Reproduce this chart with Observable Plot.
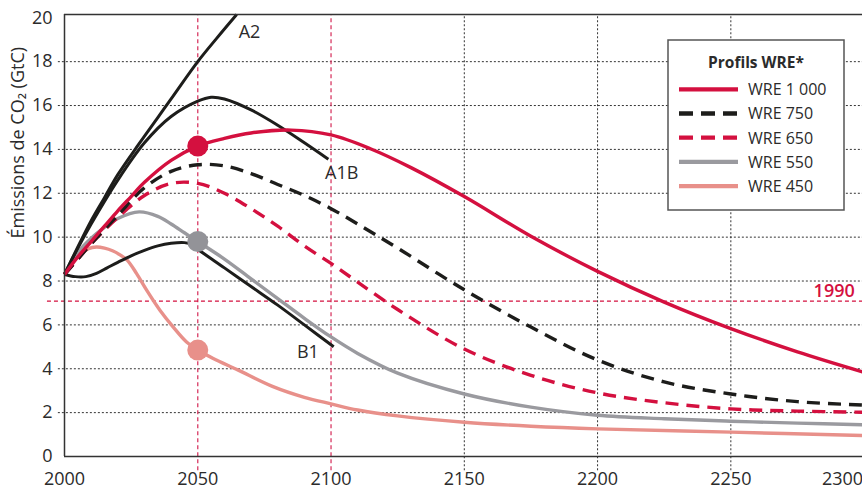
<!DOCTYPE html>
<html><head><meta charset="utf-8">
<script src="https://cdn.jsdelivr.net/npm/d3@7"></script>
<script src="https://cdn.jsdelivr.net/npm/@observablehq/plot@0.6"></script>
<style>
body{margin:0;background:#fff;}
#chart{position:relative;width:862px;height:494px;overflow:hidden;}
</style>
</head><body><div id="chart"></div>
<script>
// ---- Data (year, GtC) ----
const A2 = [[2000,8.3],[2005,9.55],[2010,10.75],[2015,11.8],[2020,12.85],[2028,14.26],[2035,15.45],[2040,16.3],[2050,18.0],[2057,19.05],[2064.6,20.15]];
const A1B = [[2000,8.3],[2005,9.5],[2010,10.6],[2020,12.6],[2030,14.3],[2040,15.5],[2050,16.2],[2055,16.38],[2060,16.3],[2070,15.8],[2080,15.1],[2090,14.3],[2099,13.55]];
const B1 = [[2000,8.3],[2004,8.2],[2008,8.2],[2012,8.35],[2016,8.6],[2020,8.85],[2025,9.15],[2030,9.4],[2035,9.6],[2040,9.72],[2045,9.75],[2048,9.65],[2050,9.45],[2060,8.6],[2070,7.75],[2080,6.9],[2090,6.0],[2101,5.0]];
const WRE1000 = [[2000,8.3],[2005,9.1],[2010,9.8],[2015,10.5],[2020,11.2],[2025,11.85],[2030,12.5],[2040,13.5],[2050,14.15],[2060,14.5],[2070,14.75],[2085,14.88],[2100,14.66],[2115,14.02],[2130,13.17],[2150,11.85],[2175,10.04],[2200,8.44],[2225,7.04],[2250,5.83],[2275,4.77],[2299.4,3.86]];
const WRE750 = [[2000,8.3],[2005,9.0],[2010,9.7],[2020,11.0],[2030,12.25],[2040,13.0],[2050,13.3],[2060,13.25],[2070,12.9],[2080,12.4],[2090,11.9],[2100,11.3],[2110,10.6],[2125,9.5],[2150,7.6],[2175,5.9],[2200,4.4],[2225,3.4],[2250,2.85],[2275,2.5],[2299.4,2.35]];
const WRE650 = [[2000,8.3],[2005,9.0],[2010,9.7],[2020,10.9],[2030,11.9],[2040,12.45],[2050,12.45],[2060,12.0],[2070,11.3],[2080,10.5],[2090,9.6],[2100,8.8],[2110,7.95],[2125,6.7],[2150,4.9],[2175,3.7],[2200,2.9],[2225,2.45],[2250,2.17],[2275,2.07],[2299.4,2.02]];
const WRE550 = [[2000,8.3],[2005,9.3],[2010,9.95],[2015,10.45],[2020,10.85],[2028,11.15],[2035,10.95],[2040,10.6],[2045,10.2],[2050,9.8],[2060,9.0],[2070,8.1],[2080,7.2],[2090,6.3],[2100,5.45],[2110,4.7],[2125,3.8],[2150,2.85],[2175,2.25],[2200,1.88],[2225,1.72],[2250,1.61],[2275,1.52],[2299.4,1.45]];
const WRE450 = [[2000,8.3],[2003,8.85],[2006,9.25],[2009,9.48],[2012,9.55],[2015,9.5],[2018,9.38],[2021,9.18],[2023.5,8.95],[2027,8.35],[2031,7.55],[2035.8,6.67],[2040.8,5.9],[2045.8,5.22],[2050.5,4.82],[2055.8,4.47],[2065,3.95],[2078,3.2],[2090,2.7],[2100,2.4],[2110,2.12],[2125,1.85],[2150,1.56],[2175,1.38],[2200,1.26],[2250,1.11],[2299.4,0.96]];

const markerYear = 2050;
const markerValues = [14.15, 9.8, 4.85];          // WRE 1000, WRE 550, WRE 450 at 2050
const value1990 = 7.08;
const scenarioLabels = ["A2", "A1B", "B1"];
const scenarioLabelYears = [2069.4, 2104, 2091.3];
const scenarioLabelValues = [19.33, 12.9, 4.74];

const yTicks = [0,2,4,6,8,10,12,14,16,18,20];
const xTicks = [2000,2050,2100,2150,2200,2250,2300];
const legendTitle = "Profils WRE*";
const legendNames = ["WRE 1 000","WRE 750","WRE 650","WRE 550","WRE 450"];

// ---- Styles ----
const RED = "#d4103f", SALMON = "#e8908a", GRAY = "#9a9a9f", BLACK = "#1d1d1b", INK = "#2b2b2b";
const legendColors = [RED, BLACK, RED, GRAY, SALMON];
const legendDash = [null, "13,8", "13,8", null, null];
const font = "'Open Sans', sans-serif";

const rows = (arr, name) => arr.map(([year, value]) => ({year, value, name}));
const lineOpts = (stroke, dash) => ({x: "year", y: "value", stroke, strokeWidth: 3.4, curve: "catmull-rom", strokeDasharray: dash || null, strokeLinecap: "butt"});

const Y_TOP = 20.15, X_RIGHT = 2299.4;
const fmt = d => String(d);

const chart = Plot.plot({
  width: 862, height: 494,
  marginLeft: 64, marginRight: 0, marginTop: 14, marginBottom: 38,
  style: {fontFamily: font, fontSize: "17px", color: INK, background: "#fff", overflow: "visible"},
  x: {domain: [2000, X_RIGHT]},
  y: {domain: [0, Y_TOP]},
  marks: [
    Plot.ruleY(yTicks.filter(d => d > 0 && d < 20), {x1: 1997.7, x2: X_RIGHT, stroke: "#333", strokeWidth: 1, strokeDasharray: "2,2"}),
    Plot.ruleX(xTicks.filter(d => d > 2100 && d < 2300), {y1: -0.65, y2: Y_TOP, stroke: "#333", strokeWidth: 1, strokeDasharray: "2,2"}),
    Plot.ruleX(xTicks.filter(d => d === 2050 || d === 2100), {y1: -0.65, y2: Y_TOP, stroke: "#d83a64", strokeWidth: 1.3, strokeDasharray: "4,3"}),
    Plot.ruleY([value1990], {x1: 1993.6, x2: X_RIGHT, stroke: RED, strokeWidth: 1.2, strokeDasharray: "4,3"}),
    Plot.line(rows(WRE450, "WRE 450"), lineOpts(SALMON)),
    Plot.line(rows(WRE550, "WRE 550"), lineOpts(GRAY)),
    Plot.line(rows(B1, "B1"), {...lineOpts(BLACK), strokeWidth: 3}),
    Plot.line(rows(WRE650, "WRE 650"), lineOpts(RED, "13,8")),
    Plot.line(rows(WRE750, "WRE 750"), lineOpts(BLACK, "13,8")),
    Plot.line(rows(A1B, "A1B"), {...lineOpts(BLACK), strokeWidth: 3}),
    Plot.line(rows(A2, "A2"), {...lineOpts(BLACK), strokeWidth: 3}),
    Plot.line(rows(WRE1000, "WRE 1000"), lineOpts(RED)),
    Plot.dot(markerValues, {x: () => markerYear, y: d => d, r: 10.5, fill: [RED, "#939398", SALMON], stroke: null}),
    Plot.text(scenarioLabels, {x: (d, i) => scenarioLabelYears[i], y: (d, i) => scenarioLabelValues[i], text: d => d, fontSize: 18, fill: INK}),
    Plot.text(["1990"], {x: () => 2296.5, y: () => 7.52, text: d => d, textAnchor: "end", fontSize: 18, fontWeight: 600, fill: RED}),
    // frame
    Plot.ruleY([0, Y_TOP], {x1: 2000, x2: X_RIGHT, stroke: "#333", strokeWidth: 1.5}),
    Plot.ruleX([2000], {y1: 0, y2: Y_TOP, stroke: "#333", strokeWidth: 1.5}),
    Plot.axisY(yTicks, {tickSize: 0, tickPadding: 12, label: null, fontSize: 18, fill: INK, tickFormat: fmt}),
    Plot.axisX(xTicks.filter(d => d < 2300), {tickSize: 0, tickPadding: 16, label: null, fontSize: 18, fill: INK, tickFormat: fmt}),
    Plot.axisX(xTicks.filter(d => d === 2300), {tickSize: 0, tickPadding: 16, label: null, fontSize: 18, fill: INK, tickFormat: fmt, textAnchor: "end", dx: -1}),
    Plot.text(["Émissions de CO₂ (GtC)"], {frameAnchor: "left", dx: -46, dy: 3, rotate: -90, fontSize: 18, fill: INK, text: d => d})
  ]
});
document.getElementById("chart").appendChild(chart);

// ---- Legend drawn inside the SVG ----
const svg = d3.select(chart);
const lg = svg.append("g").attr("font-family", font).attr("text-anchor", "start");
lg.append("rect").attr("x", 668).attr("y", 40).attr("width", 176).attr("height", 170)
  .attr("fill", "#fff").attr("stroke", "#555").attr("stroke-width", 1.5);
lg.append("text").attr("x", 756).attr("y", 67.5).attr("text-anchor", "middle")
  .attr("font-size", 15.5).attr("font-weight", 700).attr("fill", INK).text(legendTitle);
legendNames.forEach((name, i) => {
  const y = 89.3 + i * 24.2;
  lg.append("line").attr("x1", 679).attr("x2", 738).attr("y1", y).attr("y2", y)
    .attr("stroke", legendColors[i]).attr("stroke-width", 4.3)
    .attr("stroke-dasharray", legendDash[i] ? "14,8" : null);
  lg.append("text").attr("x", 748).attr("y", y + 5.8).attr("font-size", 16).attr("fill", INK).text(name);
});
</script>
</body></html>
